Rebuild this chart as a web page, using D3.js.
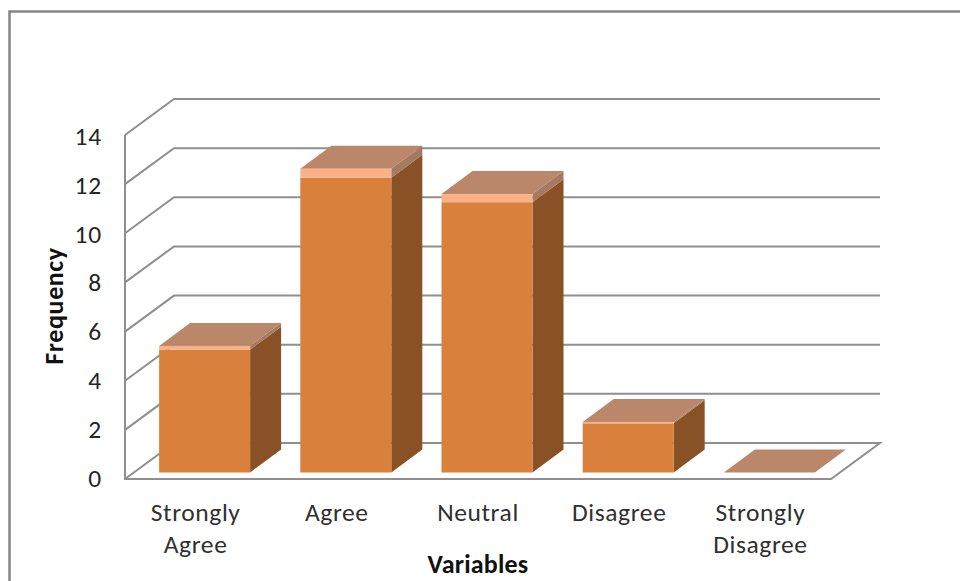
<!DOCTYPE html>
<html>
<head>
<meta charset="utf-8">
<script src="https://cdnjs.cloudflare.com/ajax/libs/d3/7.8.5/d3.min.js"></script>
<style>
html,body{margin:0;padding:0;background:#fff;overflow:hidden}
text{font-family:Carlito,"Open Sans","Noto Sans",sans-serif}
</style>
</head>
<body>
<svg id="chart" width="960" height="581"></svg>
<script>
const categories = [["Strongly","Agree"],["Agree"],["Neutral"],["Disagree"],["Strongly","Disagree"]];
const frequencies = [5, 12, 11, 2, 0];
const tickValues = [0, 2, 4, 6, 8, 10, 12, 14];

const svg = d3.select("#chart");

// Front plane of the 3D box and the offset to its back wall
const y = d3.scaleLinear().domain([0, 14]).range([479, 135]);
const xFront = d3.scaleLinear().domain([0, 5]).range([125, 831]);
const depth = {dx: 49, dy: -36};
const barDepth = {dx: 31, dy: -23};
const barBase = 472.5 - y(0);
const bevel = 1.03;

// Baselines of the value axis labels
const yLabel = d3.scaleLinear().domain([0, 14]).range([486.5, 145]);

const grey = "#8f8f8f";
const line = d3.line();

// Chart frame
svg.append("path")
  .attr("d", line([[9.5, 581], [9.5, 11.5], [960, 11.5]]))
  .attr("fill", "none").attr("stroke", "#868686").attr("stroke-width", 2.5);

// Gridlines on the back wall and their returns along the side wall
const grid = svg.append("g").attr("fill", "none").attr("stroke", grey).attr("stroke-width", 2);
tickValues.filter(d => d > 0).forEach(d => {
  grid.append("path").attr("d", line([
    [xFront(0), y(d)],
    [xFront(0) + depth.dx, y(d) + depth.dy],
    [xFront(5) + depth.dx, y(d) + depth.dy]
  ]));
});

// Floor and vertical edge
grid.append("path").attr("d", line([
  [xFront(0), y(14)], [xFront(0), y(0)], [xFront(5), y(0)],
  [xFront(5) + depth.dx, y(0) + depth.dy],
  [xFront(0) + depth.dx, y(0) + depth.dy],
  [xFront(0), y(0)]
]));

// Bars
const band = d3.scaleBand().domain(d3.range(5)).range([xFront(0), xFront(5)]).padding(0);
const barWidth = 91;
const bars = svg.selectAll("g.bar").data(frequencies).join("g").attr("class", "bar");

bars.each(function (v, i) {
  const g = d3.select(this);
  const x0 = band(i) + band.bandwidth() / 2 - barWidth / 2 + 9;
  const x1 = x0 + barWidth;
  const yBase = y(0) + barBase;
  const yFace = y(v) + barBase;
  const yCap = y(v * bevel) + barBase;
  const bx = barDepth.dx, by = barDepth.dy;

  // Top face
  g.append("path").attr("fill", "#bb876a")
    .attr("d", line([[x0, yCap], [x0 + bx, yCap + by], [x1 + bx, yCap + by], [x1, yCap]]) + "Z");

  if (v > 0) {
    // Right side, with its lit upper strip
    g.append("path").attr("fill", "#895226")
      .attr("d", line([[x1, yBase], [x1 + bx, yBase + by], [x1 + bx, yFace + by], [x1, yFace]]) + "Z");
    g.append("path").attr("fill", "#a67a60")
      .attr("d", line([[x1, yFace], [x1 + bx, yFace + by], [x1 + bx, yCap + by], [x1, yCap]]) + "Z");
    // Front face and its lit upper strip
    g.append("rect").attr("x", x0).attr("y", yFace).attr("width", barWidth).attr("height", yBase - yFace)
      .attr("fill", "#d8803c");
    g.append("rect").attr("x", x0).attr("y", yCap).attr("width", barWidth).attr("height", yFace - yCap)
      .attr("fill", "#fbb088");
  }
});

// Value axis labels
svg.append("g").selectAll("text").data(tickValues).join("text")
  .attr("x", 102).attr("y", d => yLabel(d))
  .attr("text-anchor", "end")
  .attr("font-size", 25.5).attr("letter-spacing", 0.8).attr("fill", "#262626")
  .text(d => d);

// Category labels
const catText = svg.append("g").selectAll("text").data(categories).join("text")
  .attr("text-anchor", "middle")
  .attr("font-size", 25.5).attr("letter-spacing", 0.6).attr("fill", "#303030");
catText.each(function (lines, i) {
  const cx = band(i) + band.bandwidth() / 2;
  d3.select(this).selectAll("tspan").data(lines).join("tspan")
    .attr("x", cx).attr("y", (d, k) => 520.5 + k * 32).text(d => d);
});

// Axis titles
svg.append("text").attr("x", 478).attr("y", 573).attr("text-anchor", "middle")
  .attr("font-size", 26).attr("letter-spacing", 0.2).attr("font-weight", "bold").attr("fill", "#111").text("Variables");
svg.append("text").attr("transform", "translate(63,306) rotate(-90)").attr("text-anchor", "middle")
  .attr("font-size", 26).attr("letter-spacing", 0.6).attr("font-weight", "bold").attr("fill", "#111").text("Frequency");
</script>
</body>
</html>
